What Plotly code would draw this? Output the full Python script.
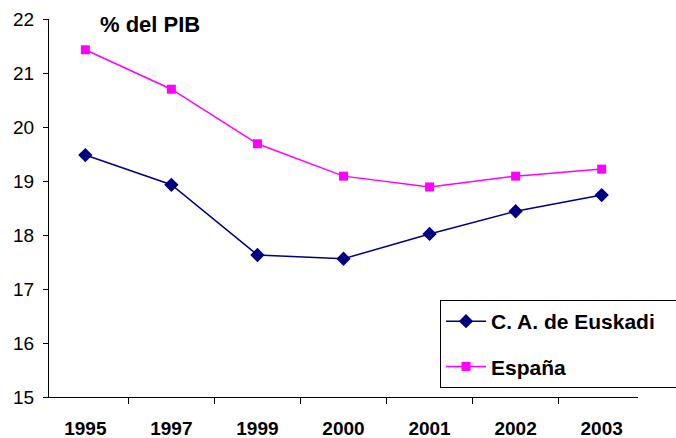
import plotly.graph_objects as go

years = ["1995", "1997", "1999", "2000", "2001", "2002", "2003"]
euskadi = [19.48, 18.93, 17.63, 17.56, 18.02, 18.44, 18.74]
espana = [21.43, 20.70, 19.69, 19.09, 18.89, 19.09, 19.22]

FONT = "Liberation Sans, Arial, sans-serif"

fig = go.Figure()
fig.add_trace(go.Scatter(x=years, y=euskadi, name="<b>C. A. de Euskadi</b>&nbsp;&nbsp;&nbsp;",
                         mode="lines+markers", legendgroup="a",
                         line=dict(color="#000080", width=1.5),
                         marker=dict(symbol="diamond", size=11, color="#000080")))
fig.add_trace(go.Scatter(x=years, y=espana, name="<b>España</b>", mode="lines+markers",
                         legendgroup="b",
                         line=dict(color="#FF00FF", width=1.5),
                         marker=dict(symbol="square", size=9, color="#FF00FF")))

fig.update_layout(
    width=676, height=438,
    margin=dict(l=49, r=38, t=19, b=41, autoexpand=False),
    paper_bgcolor="white", plot_bgcolor="white",
    font=dict(family=FONT, size=19, color="black"),
    showlegend=True,
    legend=dict(x=(440 - 49) / 589, y=(397 - 300) / 378, xanchor="left", yanchor="top",
                bordercolor="black", borderwidth=1, bgcolor="white",
                font=dict(size=21, family=FONT),
                itemwidth=40, tracegroupgap=15),
)
fig.add_annotation(text="<b>% del PIB</b>", xref="paper", yref="paper",
                   x=(98 - 49) / 589, y=(397 - 24) / 378, xanchor="left", yanchor="middle",
                   showarrow=False, font=dict(size=22, family=FONT))

fig.update_xaxes(type="category", showline=True, linecolor="black", linewidth=1,
                 ticks="outside", tickson="boundaries", ticklen=6, tickcolor="black",
                 showgrid=False, zeroline=False, automargin=False, ticklabelstandoff=14,
                 tickfont=dict(size=19, family=FONT),
                 tickprefix="<b>", ticksuffix="</b>")
fig.update_yaxes(range=[15, 22], dtick=1, showline=True, linecolor="black", linewidth=1,
                 ticks="outside", ticklen=5, tickcolor="black", showgrid=False, zeroline=False,
                 automargin=False, ticklabelstandoff=5, tickfont=dict(size=19, family=FONT))

fig.write_html("out.html", config={"displayModeBar": False},
               post_script="document.body.style.margin='0';")
